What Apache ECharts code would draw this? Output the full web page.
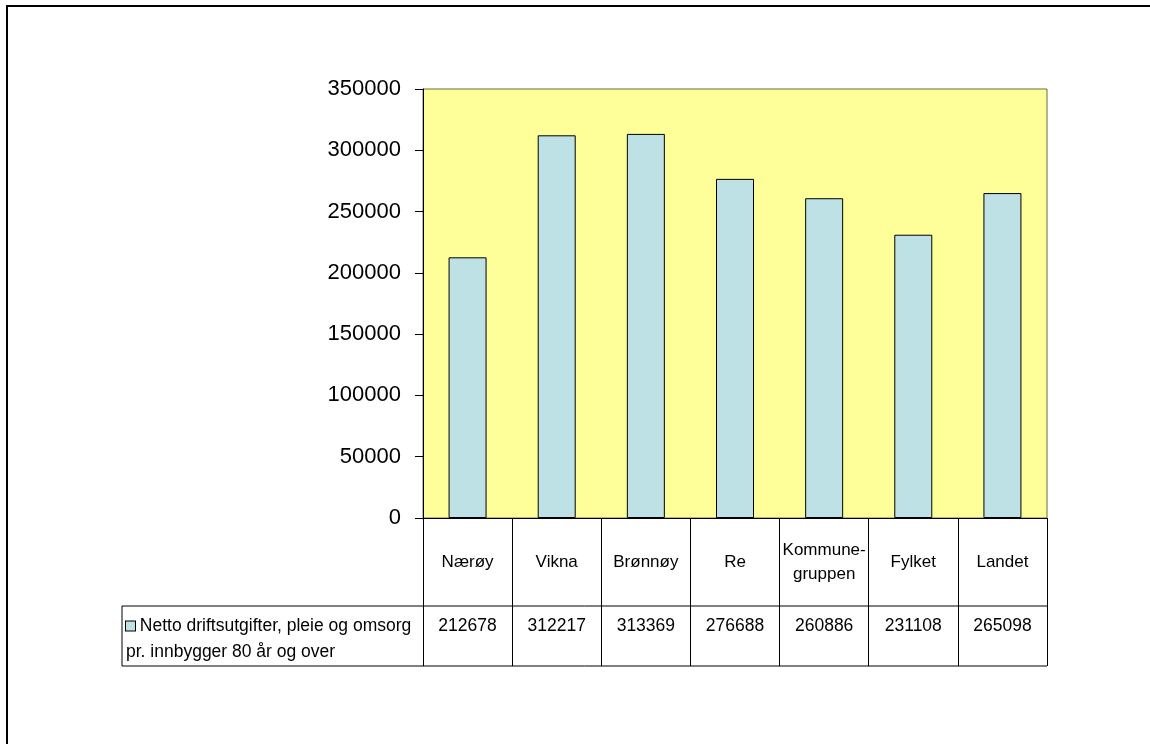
<!DOCTYPE html>
<html>
<head>
<meta charset="utf-8">
<script src="https://cdn.jsdelivr.net/npm/echarts@6/dist/echarts.min.js"></script>
<style>
  html, body { margin: 0; padding: 0; background: #fff; }
  #chart { width: 1150px; height: 744px; }
</style>
</head>
<body>
<div id="chart"></div>
<script>
// data
const categories = ['Nærøy', 'Vikna', 'Brønnøy', 'Re', 'Kommune-\ngruppen', 'Fylket', 'Landet'];
const values = [212678, 312217, 313369, 276688, 260886, 231108, 265098];
const seriesName = 'Netto driftsutgifter, pleie og omsorg\npr. innbygger 80 år og over';
const yTicks = { min: 0, max: 350000, step: 50000 };

const FONT = "'Liberation Sans', Arial, sans-serif";
const BAR_COLOR = '#BDE1E4';

// table layout (pixels)
const plotLeft = 423, plotTop = 89, plotW = 624, plotH = 429;
const tableLeft = 122, rowLine = 606, tableBottom = 666;

const chart = echarts.init(document.getElementById('chart'), null, { renderer: 'canvas' });

const option = {
    animation: false,
    backgroundColor: '#fff',
    textStyle: { fontFamily: FONT, color: '#000' },
    grid: {
        left: plotLeft, top: plotTop, width: plotW, height: plotH,
        show: true,
        backgroundColor: '#FFFF99',
        borderColor: '#6b6b4a',
        borderWidth: 1
    },
    legend: {
        left: 121,
        top: 613,
        padding: 0,
        icon: 'none',
        itemWidth: 0,
        itemHeight: 9,
        // key square drawn inline so the second line wraps under it, like Excel
        formatter: (name) => {
            const lines = name.split('\n');
            return '{box|}{t| ' + lines[0] + '}\n{t|' + lines.slice(1).join(' ') + '}';
        },
        textStyle: {
            fontFamily: FONT, fontSize: 17.5, color: '#000', lineHeight: 26,
            rich: {
                box: { width: 9, height: 9, backgroundColor: BAR_COLOR, borderColor: '#000', borderWidth: 1 },
                t: { fontFamily: FONT, fontSize: 17.5, color: '#000', lineHeight: 26 }
            }
        },
        data: [seriesName]
    },
    xAxis: [
        {
            type: 'category',
            data: categories,
            axisLine: { lineStyle: { color: '#000', width: 1 } },
            axisTick: { show: true, interval: 0, length: tableBottom - (plotTop + plotH), lineStyle: { color: '#000' } },
            axisLabel: {
                interval: 0, margin: 44, verticalAlign: 'middle',
                fontFamily: FONT, fontSize: 17, lineHeight: 24, color: '#000'
            }
        },
        {
            type: 'category',
            position: 'bottom',
            offset: rowLine - (plotTop + plotH),
            data: values.map(String),
            axisLine: { show: false },
            axisTick: { show: false },
            axisLabel: {
                interval: 0, margin: 20, verticalAlign: 'middle',
                fontFamily: FONT, fontSize: 17.5, color: '#000'
            }
        }
    ],
    yAxis: {
        type: 'value',
        min: yTicks.min,
        max: yTicks.max,
        interval: yTicks.step,
        axisLine: { show: true, lineStyle: { color: '#000', width: 1 } },
        axisTick: { show: true, length: 8, lineStyle: { color: '#000' } },
        axisLabel: { margin: 22, fontFamily: FONT, fontSize: 22, color: '#000', formatter: (v) => String(v) },
        splitLine: { show: false }
    },
    series: [
        {
            name: seriesName,
            type: 'bar',
            xAxisIndex: 0,
            barWidth: 38,
            itemStyle: { color: BAR_COLOR, borderColor: '#000', borderWidth: 1 },
            data: values
        }
    ],
    graphic: [
        // outer chart frame
        { type: 'rect', shape: { x: 7, y: 6, width: 1300, height: 900 }, style: { fill: null, stroke: '#000', lineWidth: 2 }, silent: true, z: 100 },
        // data table lines
        { type: 'line', shape: { x1: tableLeft, y1: rowLine, x2: plotLeft + plotW, y2: rowLine }, style: { stroke: '#000', lineWidth: 1 }, z: 100 },
        { type: 'line', shape: { x1: tableLeft, y1: tableBottom, x2: plotLeft + plotW, y2: tableBottom }, style: { stroke: '#000', lineWidth: 1 }, z: 100 },
        { type: 'line', shape: { x1: tableLeft, y1: rowLine, x2: tableLeft, y2: tableBottom }, style: { stroke: '#000', lineWidth: 1 }, z: 100 }
    ]
};

chart.setOption(option);
window.addEventListener('resize', () => chart.resize());
</script>
</body>
</html>
